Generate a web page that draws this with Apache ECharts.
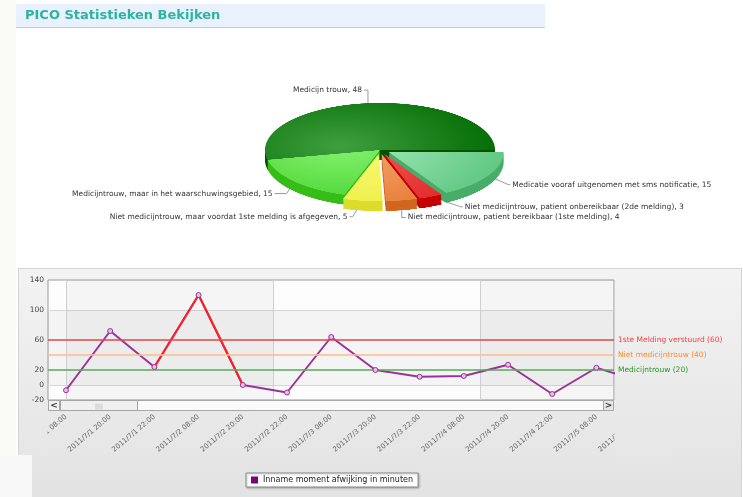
<!DOCTYPE html>
<html><head><meta charset="utf-8">
<script src="https://cdn.jsdelivr.net/npm/echarts@6/dist/echarts.min.js"></script>
<style>
html,body{margin:0;padding:0;background:#fff;}
#wrap{position:relative;width:743px;height:497px;overflow:hidden;background:#fff;}
.bg{position:absolute;box-sizing:border-box;}
#main{position:absolute;left:0;top:0;width:743px;height:497px;}
#pie{position:absolute;left:0;top:0;width:743px;height:300px;transform:scaleY(0.41);transform-origin:0 150px;pointer-events:none;}
</style></head>
<body><div id="wrap">
<div class="bg" style="left:0;top:0;width:16px;height:455px;background:#fafaf5"></div>
<div class="bg" style="left:16px;top:4px;width:529px;height:24px;background:#e9f1fd;border-bottom:1px solid #b3cff2"></div>
<div class="bg" style="left:18px;top:268px;width:724px;height:240px;background:linear-gradient(#f3f3f3,#e2e2e2);border:1px solid #d4d4d4"></div>
<div class="bg" style="left:0;top:455px;width:32px;height:42px;background:#f8f8f8"></div>
<div id="main"></div>
<div id="pie"></div>
</div>
<script>
// ---------------- DATA ----------------
const chartTitle = 'PICO Statistieken Bekijken';
const pieNames = [
  'Medicijn trouw',
  'Medicatie vooraf uitgenomen met sms notificatie',
  'Niet medicijntrouw, patient onbereikbaar (2de melding)',
  'Niet medicijntrouw, patient bereikbaar (1ste melding)',
  'Niet medicijntrouw, maar voordat 1ste melding is afgegeven',
  'Medicijntrouw, maar in het waarschuwingsgebied'
];
const pieValues = [48, 15, 3, 4, 5, 15];
const pieSelected = [false, true, true, true, true, false];

const timeLabels = [
  '2011/7/1 08:00', '2011/7/1 20:00', '2011/7/1 22:00', '2011/7/2 08:00',
  '2011/7/2 20:00', '2011/7/2 22:00', '2011/7/3 08:00', '2011/7/3 20:00',
  '2011/7/3 22:00', '2011/7/4 08:00', '2011/7/4 20:00', '2011/7/4 22:00',
  '2011/7/5 08:00', '2011/7/5 20:00'
];
const seriesName = 'Inname moment afwijking in minuten';
const deviationValues = [-7, 72, 24, 120, 0, -10, 64, 20, 11, 12, 27, -12, 23, 5];
const alarmRange = [2, 4];
const thresholdValues = [60, 40, 20];
const thresholdNames = ['1ste Melding verstuurd', 'Niet medicijntrouw', 'Medicijntrouw'];
const yTickLabels = [-20, 0, 20, 60, 100, 140];

// ---------------- LAYOUT / STYLE ----------------
const FONT = 'DejaVu Sans';
const pieCx = 380, pieCy = 150, pieR = 115, pieSquash = 0.41, pieStart = 192, pieOffset = 10;
const depthSteps = 12, depthStep = 2;
const topLight = ['#3f9f3f', '#a4ebbb', '#f45a5a', '#f4a868', '#fafa78', '#86f270'];
const topBase  = ['#006a00', '#5cc67f', '#e02626', '#e87836', '#eded40', '#42d02a'];
const sideCol  = ['#005200', '#49ad69', '#c40000', '#d2661f', '#dcdc2c', '#36bd18'];
const labelBend = [[0, -13], [20, 9], [30, 10], [0, 17], [-10, 16], [-8, 12]];
const labelTail = [-4, 2, 2, 4, -3, -12];

const plotL = 48, plotR = 614, plotT = 280, plotB = 400;
const firstPtX = 66, ptStep = 44.2, stripeX0 = 66.7, stripeW = 207;
const xViewMin = (plotL - firstPtX) / ptStep, xViewMax = (plotR - firstPtX) / ptStep;
const lineColor = '#993399', alarmColor = '#ff2020';
const thLineColors = ['#e04848', '#ffbb8a', '#5aa85a'];
const thTextColors = ['#ff3c3c', '#ff8a33', '#229a22'];

// ---------------- PIE (3D look, squashed) ----------------
const pieChart = echarts.init(document.getElementById('pie'), null, {renderer: 'canvas', devicePixelRatio: 2});
function pieLayer(cy, colorFn) {
  return {
    type: 'pie', center: [pieCx, cy], radius: pieR, startAngle: pieStart, clockwise: true,
    selectedMode: 'multiple', selectedOffset: pieOffset, silent: true, animation: false,
    label: {show: false}, labelLine: {show: false}, emphasis: {disabled: true},
    data: pieNames.map((n, i) => ({
      name: n, value: pieValues[i], selected: pieSelected[i],
      itemStyle: {color: colorFn(i), borderWidth: 0},
      select: {itemStyle: {color: colorFn(i), borderWidth: 0}}
    }))
  };
}
const pieSeries = [];
for (let k = depthSteps; k >= 1; k--) pieSeries.push(pieLayer(pieCy + k * depthStep, i => sideCol[i]));
pieSeries.push(pieLayer(pieCy, i => ({
  type: 'radial', x: pieCx - 40, y: pieCy - 10, r: 170, global: true,
  colorStops: [{offset: 0, color: topLight[i]}, {offset: 1, color: topBase[i]}]
})));
pieChart.setOption({animation: false, series: pieSeries});

// ---------------- MAIN ----------------
const total = pieValues.reduce((a, b) => a + b, 0);
function pieLabelLayout(params) {
  const i = params.dataIndex;
  let acc = 0; for (let k = 0; k < i; k++) acc += pieValues[k];
  const mid = (pieStart - (acc + pieValues[i] / 2) / total * 360) * Math.PI / 180;
  const r = pieR + (pieSelected[i] ? pieOffset : 0);
  const p0 = [pieCx + r * Math.cos(mid), pieCy - r * Math.sin(mid) * pieSquash];
  const p1 = [p0[0] + labelBend[i][0], p0[1] + labelBend[i][1]];
  const p2 = [p1[0] + labelTail[i], p1[1]];
  const right = labelTail[i] > 0;
  return {x: p2[0] + (right ? 2 : -2), y: p2[1], align: right ? 'left' : 'right',
          verticalAlign: 'middle', labelLinePoints: [p0, p1, p2]};
}

const pts = deviationValues.map((v, i) => [i, v]);
const alarmPts = deviationValues.slice(alarmRange[0], alarmRange[1] + 1).map((v, k) => [k + alarmRange[0], v]);

const hBand = 'rgba(0,0,0,0.035)', noBand = 'rgba(0,0,0,0)';
const main = echarts.init(document.getElementById('main'), null, {renderer: 'canvas'});
main.setOption({
  animation: false,
  textStyle: {fontFamily: FONT},
  title: {text: chartTitle, left: 25, top: 9, padding: 0,
    textStyle: {fontFamily: FONT, fontWeight: 'bold', fontSize: 13, color: '#2db3a2'}},
  legend: {
    data: [{name: seriesName, itemStyle: {color: '#800080'}}],
    left: 246, top: 473, icon: 'rect', itemWidth: 7, itemHeight: 7,
    backgroundColor: '#ffffff', borderColor: '#8a8a8a', borderWidth: 1, padding: [3, 5, 3, 5],
    shadowBlur: 2, shadowColor: 'rgba(0,0,0,0.25)', shadowOffsetX: 1, shadowOffsetY: 1,
    textStyle: {fontFamily: FONT, fontSize: 8, color: '#222'}, selectedMode: false
  },
  grid: [
    {left: plotL, right: 743 - plotR, top: plotT, bottom: 497 - plotB, show: true,
     backgroundColor: '#fdfdfd', borderColor: '#9a9a9a', borderWidth: 1, outerBoundsMode: 'none'},
    {left: firstPtX, right: 743 - (firstPtX + ptStep * (timeLabels.length - 1)), top: plotT, bottom: 497 - plotB, outerBoundsMode: 'none'},
    {left: stripeX0, right: 743 - plotR, top: plotT, bottom: 497 - plotB, outerBoundsMode: 'none'}
  ],
  xAxis: [
    {gridIndex: 0, type: 'value', min: xViewMin, max: xViewMax, show: false},
    {gridIndex: 1, type: 'category', data: timeLabels, boundaryGap: false,
     axisLine: {show: false}, axisTick: {show: false}, splitLine: {show: false},
     axisLabel: {interval: 0, rotate: 40, margin: 16, fontSize: 7, color: '#666', fontFamily: FONT}},
    {gridIndex: 2, type: 'value', min: 0, max: (plotR - stripeX0) / stripeW, interval: 1,
     axisLine: {show: false}, axisTick: {show: false}, axisLabel: {show: false},
     splitLine: {show: true, lineStyle: {color: '#cfcfcf', width: 1}},
     splitArea: {show: true, areaStyle: {color: ['rgba(0,0,0,0.03)', 'rgba(0,0,0,0)']}}}
  ],
  yAxis: [
    {gridIndex: 0, type: 'value', min: -20, max: 140, interval: 20,
     axisLine: {show: false}, axisTick: {show: false},
     axisLabel: {margin: 4, fontSize: 7.5, color: '#444', fontFamily: FONT,
       formatter: v => (yTickLabels.indexOf(v) >= 0 ? String(v) : '')},
     splitLine: {show: true, lineStyle: {width: 1, color: [noBand, '#d6d6d6', noBand, noBand, noBand, noBand, '#d6d6d6', noBand, noBand]}},
     splitArea: {show: true, areaStyle: {color: [noBand, hBand, hBand, hBand, hBand, hBand, noBand, noBand]}}},
    {gridIndex: 1, type: 'value', min: -20, max: 140, show: false},
    {gridIndex: 2, type: 'value', min: -20, max: 140, show: false}
  ],
  series: [
    {name: seriesName, type: 'line', xAxisIndex: 0, yAxisIndex: 0, data: pts,
     symbol: 'none', lineStyle: {color: lineColor, width: 2}, itemStyle: {color: '#800080'}, z: 3,
     markLine: {
       silent: true, symbol: ['none', 'none'], animation: false,
       label: {position: 'end', distance: 4, fontSize: 7.5, fontFamily: FONT},
       data: thresholdValues.map((v, i) => ({
         yAxis: v,
         lineStyle: {color: thLineColors[i], width: 1.5, type: 'solid'},
         label: {formatter: thresholdNames[i] + ' (' + v + ')', color: thTextColors[i]}
       }))
     }},
    {name: 'alarm', type: 'line', xAxisIndex: 0, yAxisIndex: 0, data: alarmPts,
     symbol: 'none', lineStyle: {color: alarmColor, width: 2}, z: 4},
    {name: 'points', type: 'line', xAxisIndex: 0, yAxisIndex: 0, data: pts,
     lineStyle: {width: 0, opacity: 0}, symbol: 'circle', symbolSize: 5, showSymbol: true,
     itemStyle: {color: '#e6bfe6', borderColor: lineColor, borderWidth: 1}, z: 5},
    {name: 'pieLabels', type: 'pie', center: [pieCx, pieCy], radius: pieR,
     startAngle: pieStart, clockwise: true, silent: true, avoidLabelOverlap: false,
     itemStyle: {color: 'rgba(0,0,0,0)', borderWidth: 0}, emphasis: {disabled: true},
     data: pieNames.map((n, i) => ({name: n, value: pieValues[i]})),
     label: {show: true, position: 'outside', formatter: '{b}, {c}', fontSize: 7.5, color: '#333', fontFamily: FONT},
     labelLine: {show: true, lineStyle: {color: '#9a9a9a', width: 1}},
     labelLayout: pieLabelLayout, z: 6}
  ],
  graphic: [
    // clip the scrolled-off label parts
    {type: 'rect', z: 60, silent: true, shape: {x: 19, y: 410, width: 28.5, height: 45},
     style: {fill: {type: 'linear', x: 0, y: 0, x2: 0, y2: 1, colorStops: [{offset: 0, color: '#e9e9e9'}, {offset: 1, color: '#e6e6e6'}]}}},
    {type: 'rect', z: 60, silent: true, shape: {x: 614.5, y: 410, width: 60, height: 62},
     style: {fill: {type: 'linear', x: 0, y: 0, x2: 0, y2: 1, colorStops: [{offset: 0, color: '#e9e9e9'}, {offset: 1, color: '#e5e5e5'}]}}},
    // scrollbar
    {type: 'rect', z: 70, silent: true, shape: {x: 48.5, y: 400.5, width: 565, height: 10}, style: {fill: '#fbfbfb', stroke: '#a6a6a6', lineWidth: 1}},
    {type: 'rect', z: 71, silent: true, shape: {x: 48.5, y: 400.5, width: 11, height: 10}, style: {fill: '#f2f2f2', stroke: '#a6a6a6', lineWidth: 1}},
    {type: 'text', z: 72, silent: true, x: 54, y: 406, style: {text: '<', font: 'bold 9px DejaVu Sans', fill: '#333', align: 'center', verticalAlign: 'middle'}},
    {type: 'rect', z: 71, silent: true, shape: {x: 60.5, y: 400.5, width: 77, height: 10}, style: {fill: '#f0f0f0', stroke: '#a6a6a6', lineWidth: 1}},
    {type: 'text', z: 72, silent: true, x: 99, y: 406, style: {text: '||||', font: '6px DejaVu Sans', fill: '#aaa', align: 'center', verticalAlign: 'middle'}},
    {type: 'rect', z: 71, silent: true, shape: {x: 603.5, y: 400.5, width: 10, height: 10}, style: {fill: '#e6e6e6', stroke: '#a6a6a6', lineWidth: 1}},
    {type: 'text', z: 72, silent: true, x: 608.5, y: 406, style: {text: '>', font: 'bold 9px DejaVu Sans', fill: '#333', align: 'center', verticalAlign: 'middle'}}
  ]
});
</script>
</body></html>
